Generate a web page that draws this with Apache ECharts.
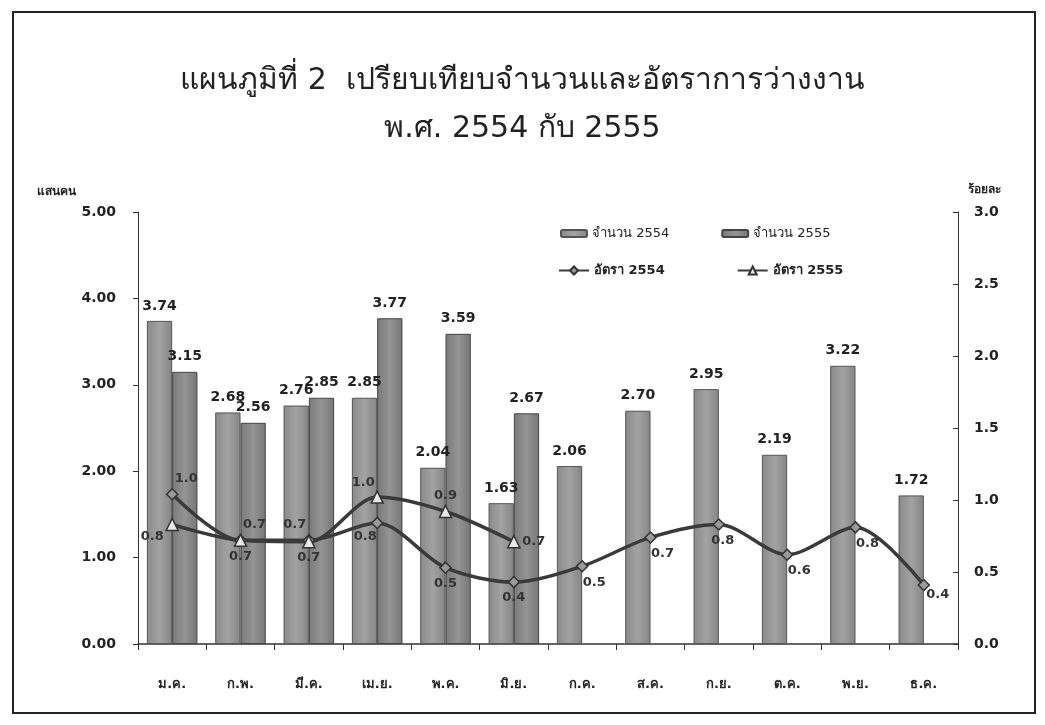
<!DOCTYPE html>
<html><head><meta charset="utf-8">
<script src="https://cdn.jsdelivr.net/npm/echarts@6/dist/echarts.min.js"></script>
<style>html,body{margin:0;padding:0;background:#fff}#c{width:1045px;height:725px}</style>
</head><body><div id="c"></div>
<script>
const months = ['ม.ค.','ก.พ.','มี.ค.','เม.ย.','พ.ค.','มิ.ย.','ก.ค.','ส.ค.','ก.ย.','ต.ค.','พ.ย.','ธ.ค.'];
const count2554 = [3.74, 2.68, 2.76, 2.85, 2.04, 1.63, 2.06, 2.70, 2.95, 2.19, 3.22, 1.72];
const count2555 = [3.15, 2.56, 2.85, 3.77, 3.59, 2.67, null, null, null, null, null, null];
const rate2554 = [1.04, 0.72, 0.72, 0.84, 0.53, 0.43, 0.54, 0.74, 0.83, 0.62, 0.81, 0.41];
const rate2555 = [0.83, 0.72, 0.71, 1.02, 0.92, 0.71, null, null, null, null, null, null];
const leftTicks = [0, 1, 2, 3, 4, 5];
const rightTicks = [0, 0.5, 1.0, 1.5, 2.0, 2.5, 3.0];

// label placement (style only)
const pos2554 = [[14,-16],[14,-16],[-14,-16],[-12,14],[0,16],[0,16],[12,16],[12,16],[4,16],[12,16],[12,16],[14,10]];
const pos2555 = [[-20,12],[0,16],[0,16],[-14,-14],[0,-16],[20,0]];

const FONT = 'Tahoma, "DejaVu Sans", "Noto Sans", sans-serif';
const chart = echarts.init(document.getElementById('c'));
function lineData(vals, pos){
  return vals.map((v,i)=> v==null ? null : ({
    value: v,
    label: {offset: pos[i] || [0,0]}
  }));
}
chart.setOption({
  animation:false,
  textStyle:{fontFamily:FONT},
  graphic:[{type:'rect',shape:{x:13,y:12,width:1022,height:701},style:{fill:'none',stroke:'#222',lineWidth:2},silent:true}],
  title:{
    text:'แผนภูมิที่ 2  เปรียบเทียบจำนวนและอัตราการว่างงาน\nพ.ศ. 2554 กับ 2555',
    left:'center', top:52,
    textStyle:{fontSize:30,fontWeight:'normal',color:'#222',lineHeight:48,fontFamily:FONT}
  },
  legend:[
    {data:[{name:'จำนวน 2554'},{name:'จำนวน 2555'}],left:555,top:222,itemGap:52,itemWidth:26,itemHeight:7,
     textStyle:{fontSize:13,color:'#222'}},
    {data:[{name:'อัตรา 2554'},{name:'อัตรา 2555'}],left:553,top:259,itemGap:72,itemWidth:30,itemHeight:10,
     textStyle:{fontSize:13,fontWeight:'bold',color:'#222'}}
  ],
  grid:{left:138,right:87,top:212,bottom:81},
  xAxis:{
    type:'category',data:months,
    axisLine:{lineStyle:{color:'#333',width:1.5}},
    axisTick:{show:true,length:6,lineStyle:{color:'#333'}},
    axisLabel:{fontSize:13,fontWeight:'bold',color:'#222',margin:34}
  },
  yAxis:[
    {type:'value',min:0,max:5,interval:1,name:'แสนคน',nameLocation:'end',nameGap:14,
     nameTextStyle:{fontSize:12,fontWeight:'bold',color:'#222',align:'right',padding:[0,62,0,0]},
     axisLine:{show:true,lineStyle:{color:'#333'}},
     axisTick:{show:true,length:5,lineStyle:{color:'#333'}},
     splitLine:{show:false},
     axisLabel:{fontSize:14,fontWeight:'bold',color:'#222',margin:22,formatter:v=>v.toFixed(2)}},
    {type:'value',min:0,max:3,interval:0.5,name:'ร้อยละ',nameLocation:'end',nameGap:16,
     nameTextStyle:{fontSize:12,fontWeight:'bold',color:'#222',align:'left',padding:[0,0,0,10]},
     axisLine:{show:true,lineStyle:{color:'#333'}},
     axisTick:{show:true,inside:true,length:5,lineStyle:{color:'#333'}},
     splitLine:{show:false},
     axisLabel:{fontSize:14,fontWeight:'bold',color:'#222',margin:16,formatter:v=>v.toFixed(1)}}
  ],
  series:[
    {name:'จำนวน 2554',type:'bar',data:count2554,barGap:'0%',barCategoryGap:'26%',
     itemStyle:{color:{type:'linear',x:0,y:0,x2:1,y2:0,colorStops:[{offset:0,color:'#8a8a8a'},{offset:0.5,color:'#a2a2a2'},{offset:1,color:'#858585'}]},borderColor:'#555',borderWidth:1},
     label:{show:true,position:'top',fontSize:14,fontWeight:'bold',color:'#222',distance:8,formatter:p=>p.value.toFixed(2)}},
    {name:'จำนวน 2555',type:'bar',data:count2555,
     itemStyle:{color:{type:'linear',x:0,y:0,x2:1,y2:0,colorStops:[{offset:0,color:'#7a7a7a'},{offset:0.5,color:'#949494'},{offset:1,color:'#767676'}]},borderColor:'#444',borderWidth:1},
     label:{show:true,position:'top',fontSize:14,fontWeight:'bold',color:'#222',distance:8,formatter:p=>p.value==null?'':p.value.toFixed(2)}},
    {name:'อัตรา 2554',type:'line',yAxisIndex:1,data:lineData(rate2554,pos2554),smooth:0.3,
     symbol:'diamond',symbolSize:11,lineStyle:{color:'#3a3a3a',width:3.5},
     itemStyle:{color:'#9a9a9a',borderColor:'#333',borderWidth:1.5},
     label:{show:true,position:'inside',fontSize:13,fontWeight:'bold',color:'#333',formatter:p=>p.value.toFixed(1)}},
    {name:'อัตรา 2555',type:'line',yAxisIndex:1,data:lineData(rate2555,pos2555),smooth:0.3,connectNulls:false,
     symbol:'triangle',symbolSize:12,lineStyle:{color:'#3a3a3a',width:3.5},
     itemStyle:{color:'#e8e8e8',borderColor:'#333',borderWidth:1.5},
     label:{show:true,position:'inside',fontSize:13,fontWeight:'bold',color:'#333',formatter:p=>p.value.toFixed(1)}}
  ]
});
</script></body></html>
